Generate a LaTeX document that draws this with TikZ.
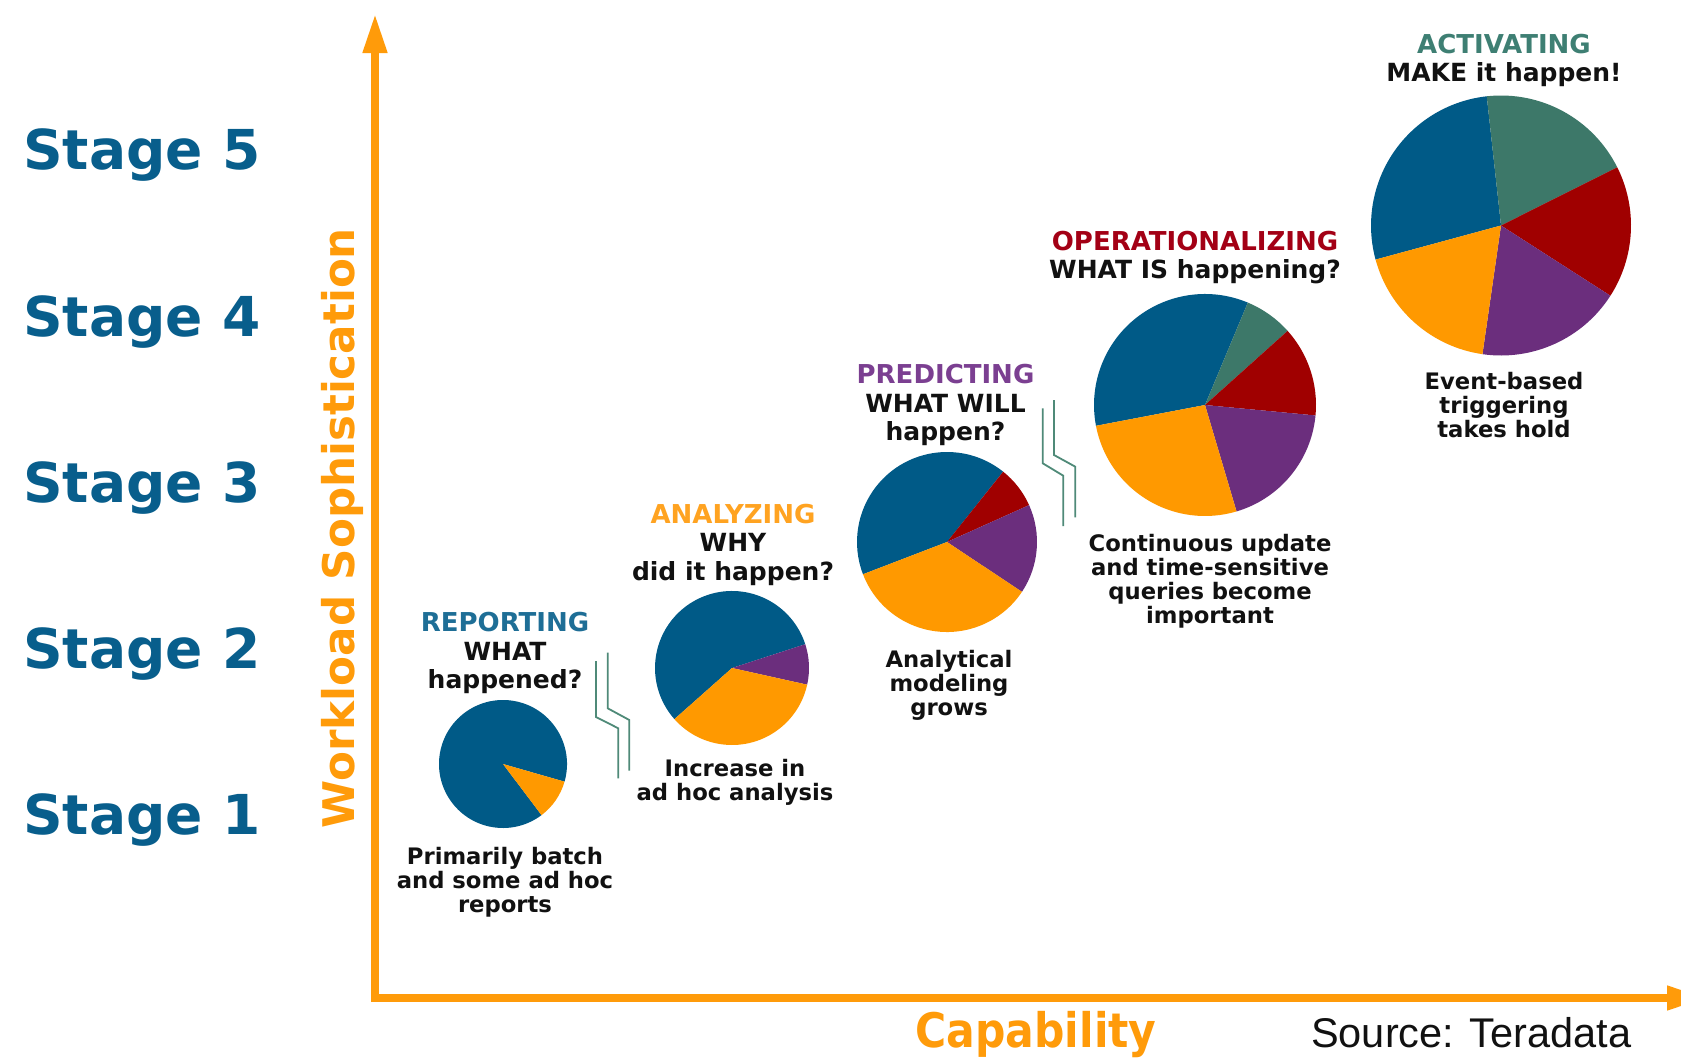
\documentclass[tikz,border=0pt]{standalone}
\usepackage{fontspec}
\setmainfont{DejaVu Sans}
\newfontfamily\srcfont{Liberation Sans}
\usetikzlibrary{arrows.meta}
\definecolor{pieblue}{HTML}{005A87}
\definecolor{pieorange}{HTML}{FF9900}
\definecolor{piepurple}{HTML}{6B2E7D}
\definecolor{piered}{HTML}{A00000}
\definecolor{piegreen}{HTML}{3D7869}
\definecolor{stageblue}{HTML}{085E8C}
\definecolor{axisorange}{HTML}{FF9B0A}
\definecolor{repcol}{HTML}{1E6E96}
\definecolor{anacol}{HTML}{FFA321}
\definecolor{precol}{HTML}{7B3F91}
\definecolor{opecol}{HTML}{A30015}
\definecolor{actcol}{HTML}{3E7F73}
\definecolor{txtblack}{HTML}{111111}
\definecolor{brkcol}{HTML}{4F8A78}
\newcommand\pieslice[6]{\fill[#6] (#1,#2) -- ++({-(#4)}:#3) arc[start angle={-(#4)}, end angle={-(#5)}, radius=#3] -- cycle;}
\newcommand\ttl[2]{{\color{#1}\fontsize{26}{28.5}\selectfont #2}}
\begin{document}
\begin{tikzpicture}[x=1pt,y=-1pt,
  axis/.style={draw=axisorange, line width=7.5pt, line join=miter,
    {Triangle[length=39pt,width=23pt]}-{Triangle[length=39pt,width=23pt]}},
  stagelbl/.style={anchor=base west, inner sep=0pt, text=stageblue,
    font=\bfseries\fontsize{55}{60}\selectfont},
  axislbl/.style={inner sep=0pt, text=axisorange, font=\bfseries\fontsize{42.5}{46}\selectfont},
  titlebox/.style={align=center, inner sep=0pt, text=txtblack,
    font=\bfseries\fontsize{25}{28.5}\selectfont},
  descbox/.style={align=center, inner sep=0pt, text=txtblack,
    font=\bfseries\fontsize{22.7}{24}\selectfont},
  brk/.style={draw=brkcol, line width=1.8pt}
]
\useasboundingbox (0,0) rectangle (1681,1060);
\clip (0,0) rectangle (1681,1060);
\fill[white] (0,0) rectangle (1681,1060);

% axes
\coordinate (ytip) at (375,14);
\coordinate (origin) at (375,998);
\coordinate (xtip) at (1706,998);
\draw[axis] (ytip) -- (origin) -- (xtip);

% stage labels
\node[stagelbl] (s5) at (23,169) {Stage 5};
\node[stagelbl] (s4) at (23,336) {Stage 4};
\node[stagelbl] (s3) at (23,502) {Stage 3};
\node[stagelbl] (s2) at (23,668.5) {Stage 2};
\node[stagelbl] (s1) at (23,834) {Stage 1};

% axis labels
\node[axislbl, font=\bfseries\fontsize{43.6}{46}\selectfont, rotate=90, anchor=base] (ylab) at (354,528) {Workload Sophistication};
\node[axislbl, anchor=base] (xlab) at (1036,1047) {\scalebox{1}[1.12]{Capability}};
\node[anchor=base west, inner sep=0pt, text=txtblack, font=\srcfont\fontsize{41.5}{45}\selectfont] (src) at (1311,1047) {Source: Teradata};

% pie 1
\coordinate (p1) at (503,764);
\pieslice{503}{764}{64}{-16}{307}{pieblue}
\pieslice{503}{764}{64}{-53}{-16}{pieorange}
% pie 2
\coordinate (p2) at (732,668);
\pieslice{732}{668}{77}{18}{221.6}{pieblue}
\pieslice{732}{668}{77}{-12.5}{18}{piepurple}
\pieslice{732}{668}{77}{221.6}{347.5}{pieorange}
% pie 3
\coordinate (p3) at (947,542);
\pieslice{947}{542}{90}{51.4}{201}{pieblue}
\pieslice{947}{542}{90}{24.2}{51.4}{piered}
\pieslice{947}{542}{90}{-33.6}{24.2}{piepurple}
\pieslice{947}{542}{90}{201}{326.4}{pieorange}
% pie 4
\coordinate (p4) at (1205,405);
\pieslice{1205}{405}{111}{67.3}{190.8}{pieblue}
\pieslice{1205}{405}{111}{41.9}{67.3}{piegreen}
\pieslice{1205}{405}{111}{-5.4}{41.9}{piered}
\pieslice{1205}{405}{111}{-73.5}{-5.4}{piepurple}
\pieslice{1205}{405}{111}{190.8}{286.5}{pieorange}
% pie 5
\coordinate (p5) at (1501,225.5);
\pieslice{1501}{225.5}{130}{96.3}{195.2}{pieblue}
\pieslice{1501}{225.5}{130}{26.6}{96.3}{piegreen}
\pieslice{1501}{225.5}{130}{-32.7}{26.6}{piered}
\pieslice{1501}{225.5}{130}{-98.2}{-32.7}{piepurple}
\pieslice{1501}{225.5}{130}{195.2}{261.8}{pieorange}

% titles
\node[titlebox] (t1) at (505,653.2) {\ttl{repcol}{REPORTING}\\WHAT\\happened?};
\node[titlebox] (t2) at (733,544.9) {\ttl{anacol}{ANALYZING}\\WHY\\did it happen?};
\node[titlebox] (t3) at (945.5,405) {\ttl{precol}{PREDICTING}\\WHAT WILL\\happen?};
\node[titlebox] (t4) at (1195,257.7) {\ttl{opecol}{OPERATIONALIZING}\\WHAT IS happening?};
\node[titlebox] (t5) at (1504,60.6) {\ttl{actcol}{ACTIVATING}\\MAKE it happen!};

% descriptions
\node[descbox] (d1) at (505,882.3) {Primarily batch\\and some ad hoc\\reports};
\node[descbox] (d2) at (735,782.7) {Increase in\\ad hoc analysis};
\node[descbox] (d3) at (949,685.7) {Analytical\\modeling\\grows};
\node[descbox] (d4) at (1210,581.7) {Continuous update\\and time-sensitive\\queries become\\important};
\node[descbox] (d5) at (1504,404.6) {Event-based\\triggering\\takes hold};

% break marks
\draw[brk] (596,661) -- (596,717) -- (618.3,728.3) -- (618.3,778.3);
\draw[brk] (607.7,652.7) -- (607.7,708.3) -- (629.3,720) -- (629.3,770.7);
\draw[brk] (1042.7,408.3) -- (1042.7,463.3) -- (1063.3,475.7) -- (1063.3,526);
\draw[brk] (1054,400) -- (1054,455) -- (1075.3,466.7) -- (1075.3,517.3);
\end{tikzpicture}
\end{document}
